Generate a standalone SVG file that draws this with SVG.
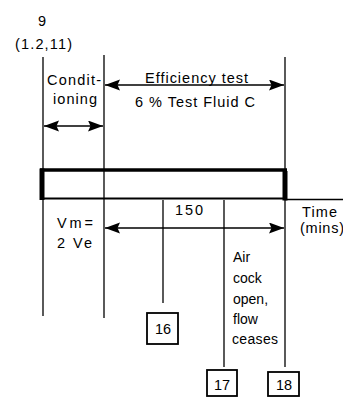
<svg xmlns="http://www.w3.org/2000/svg" width="343" height="398" viewBox="0 0 343 398">
<style>
text{font-family:"Liberation Sans","Arial",sans-serif;font-size:14.5px;fill:#000}
.ln{stroke:#000;stroke-width:1.3;fill:none}
.ar{stroke:#000;stroke-width:1.6;fill:none;marker-start:url(#ah);marker-end:url(#ah)}
.nb{stroke:#000;stroke-width:1.8;fill:#fff}
.c{text-anchor:middle}
.s{font-size:14px}
</style>
<defs>
<marker id="ah" markerUnits="userSpaceOnUse" markerWidth="16" markerHeight="12" refX="15" refY="5.5" orient="auto-start-reverse">
<path d="M0,0 L15,5.5 L0,11 L2.5,5.5 z" fill="#000"/>
</marker>
</defs>
<rect width="343" height="398" fill="#fff"/>
<g id="connectors">
<line class="ln" x1="43" y1="57" x2="43" y2="316"/>
<line class="ln" x1="104" y1="55" x2="104" y2="318"/>
<line class="ln" x1="285" y1="57" x2="285" y2="367"/>
<line class="ln" x1="163" y1="200" x2="163" y2="303"/>
<line class="ln" x1="224" y1="200" x2="224" y2="367"/>
<line class="ln" x1="285" y1="199.5" x2="343" y2="199.5"/>
<line class="ar" x1="44" y1="126" x2="103" y2="126"/>
<line class="ar" x1="105" y1="85" x2="284" y2="85"/>
<line class="ar" x1="105" y1="228" x2="284" y2="228"/>
</g>
<g id="timeline">
<rect x="41" y="170" width="244" height="28.5" fill="none" stroke="#000" stroke-width="2"/>
<line x1="40" y1="170" x2="287" y2="170" stroke="#000" stroke-width="3.5"/>
<line x1="42" y1="168.5" x2="42" y2="200" stroke="#000" stroke-width="5"/>
<line x1="285" y1="171" x2="285" y2="200.5" stroke="#000" stroke-width="5"/>
</g>
<g id="labels">
<text class="c" x="42" y="26">9</text>
<text x="15" y="49" textLength="57" lengthAdjust="spacing">(1.2,11)</text>
<text x="47" y="85" textLength="54" lengthAdjust="spacing">Condit-</text>
<text x="53" y="104" textLength="44" lengthAdjust="spacing">ioning</text>
<text x="145" y="83" textLength="103" lengthAdjust="spacing">Efficiency test</text>
<text x="135" y="107" textLength="120" lengthAdjust="spacing">6 % Test Fluid C</text>
<text x="175" y="215" textLength="28" lengthAdjust="spacing">150</text>
<text x="302" y="217" textLength="35" lengthAdjust="spacing">Time</text>
<text x="300" y="233" textLength="44" lengthAdjust="spacing">(mins)</text>
<text x="57" y="228" textLength="36" lengthAdjust="spacing">Vm=</text>
<text x="57" y="248" textLength="35" lengthAdjust="spacing">2 Ve</text>
<text class="s" x="233" y="262">Air</text>
<text class="s" x="233" y="283">cock</text>
<text class="s" x="233" y="304">open,</text>
<text class="s" x="233" y="324">flow</text>
<text class="s" x="232" y="344" textLength="46" lengthAdjust="spacing">ceases</text>
</g>
<g id="n16">
<rect class="nb" x="147" y="313" width="31" height="31"/>
<text class="c" x="163" y="334">16</text>
</g>
<g id="n17">
<rect class="nb" x="207" y="370" width="30" height="26"/>
<text class="c" x="222" y="390">17</text>
</g>
<g id="n18">
<rect class="nb" x="268" y="372" width="31" height="24"/>
<text class="c" x="284" y="390">18</text>
</g>
</svg>
